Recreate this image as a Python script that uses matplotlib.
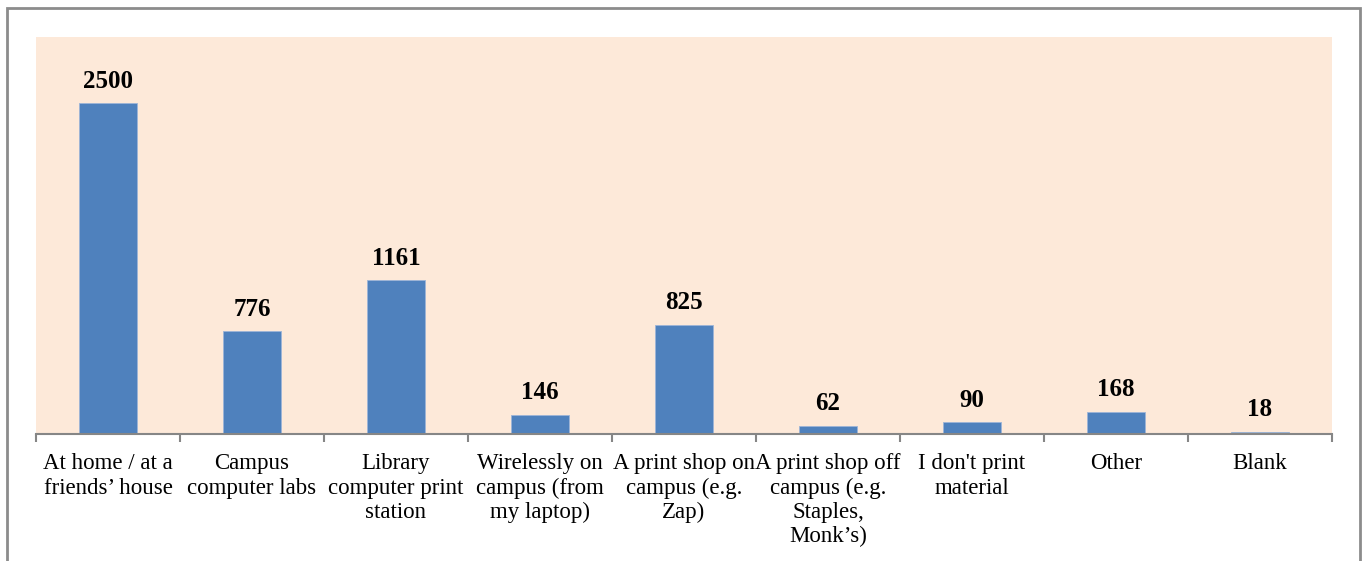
import matplotlib
matplotlib.use("Agg")
import matplotlib.pyplot as plt
from matplotlib.patches import Rectangle
import numpy as np

categories = [
    "At home / at a\nfriends\u2019 house",
    "Campus\ncomputer labs",
    "Library\ncomputer print\nstation",
    "Wirelessly on\ncampus (from\nmy laptop)",
    "A print shop on\ncampus (e.g.\nZap)",
    "A print shop off\ncampus (e.g.\nStaples,\nMonk\u2019s)",
    "I don't print\nmaterial",
    "Other",
    "Blank",
]
values = [2500, 776, 1161, 146, 825, 62, 90, 168, 18]

W, H = 1362, 561
fig = plt.figure(figsize=(W / 100, H / 100), dpi=100)
fig.patch.set_facecolor("white")

# outer frame
fig.patches.append(Rectangle((7 / W, -0.05), (1360 - 7) / W, 1 - 8 / H + 0.05,
                             transform=fig.transFigure, fill=False,
                             edgecolor="#8c8c8c", linewidth=2))

ax = fig.add_axes([36 / W, (H - 434) / H, (1332 - 36) / W, (434 - 37) / H])
ax.set_facecolor("#FDE9D9")

x = np.arange(len(categories))
bars = ax.bar(x, values, width=0.4, color="#4F81BD", edgecolor="#9DB5D8", linewidth=0.6, zorder=2)

ax.set_xlim(-0.5, len(categories) - 0.5)
ax.set_ylim(0, 3000)

for xi, v in zip(x, values):
    ax.annotate(str(v), (xi, v), xytext=(0, 7.5), textcoords="offset points",
                ha="center", va="bottom", fontsize=18, fontweight="bold",
                family="Liberation Serif", color="black")

for s in ["top", "right", "left"]:
    ax.spines[s].set_visible(False)
ax.spines["bottom"].set_color("#868686")
ax.spines["bottom"].set_linewidth(1.5)
ax.set_yticks([])

ax.set_xticks(x)
ax.set_xticklabels(categories, family="Liberation Serif", fontsize=16.5, linespacing=1.2)
ax.tick_params(axis="x", which="major", length=0, pad=14)
ax.set_xticks(np.arange(-0.5, len(categories)), minor=True)
ax.tick_params(axis="x", which="minor", length=6, width=1.5, color="#868686", direction="out")

fig.savefig("out.png", dpi=100)
